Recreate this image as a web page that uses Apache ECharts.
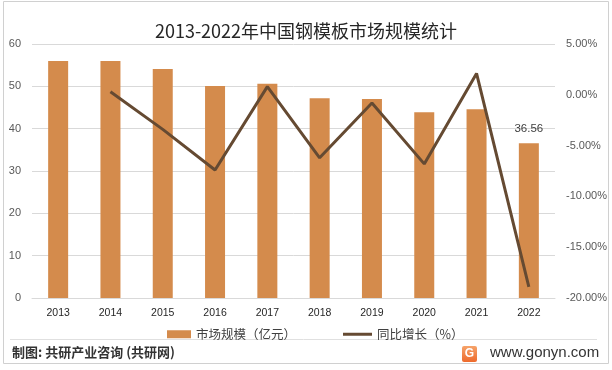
<!DOCTYPE html>
<html>
<head>
<meta charset="utf-8">
<script src="https://cdn.jsdelivr.net/npm/echarts@6/dist/echarts.min.js"></script>
<style>
html,body{margin:0;padding:0;background:#fff;}
#c{width:612px;height:370px;}
</style>
</head>
<body>
<div id="c"></div>
<script>
var categories = ['2013','2014','2015','2016','2017','2018','2019','2020','2021','2022'];
var marketSize = [56.0, 56.0, 54.1, 50.1, 50.6, 47.2, 47.0, 43.9, 44.6, 36.56];
var growthPct = [null, 0.3, -3.4, -7.4, 0.8, -6.2, -0.8, -6.8, 2.1, -18.9];
var titleText = '2013-2022年中国钢模板市场规模统计';
var barName = '市场规模（亿元）';
var lineName = '同比增长（%）';
var sourceText = '制图: 共研产业咨询 (共研网)';
var siteText = 'www.gonyn.com';

var cjk = '"Noto Sans CJK SC", "Noto Sans", sans-serif';
var lat = '"Liberation Sans", "DejaVu Sans", sans-serif';
var chart = echarts.init(document.getElementById('c'), null, {renderer:'canvas'});
chart.setOption({
  backgroundColor:'#ffffff',
  animation:false,
  title:{text:titleText,left:'center',top:17,textStyle:{fontFamily:cjk,fontSize:18,fontWeight:'normal',color:'#262626'}},
  grid:{left:32,right:57,top:44,bottom:72},
  legend:[
    {data:[barName],left:162,top:323,itemWidth:24,itemHeight:8,icon:'rect',
     textStyle:{fontFamily:cjk,fontSize:12.5,color:'#404040'}},
    {data:[lineName],left:338,top:323,itemWidth:29,itemHeight:3,icon:'rect',
     textStyle:{fontFamily:cjk,fontSize:12.5,color:'#404040'}}
  ],
  xAxis:{type:'category',data:categories,
    axisLine:{lineStyle:{color:'#d9d9d9'}},axisTick:{show:false},
    axisLabel:{fontFamily:lat,fontSize:10.5,color:'#262626',margin:10}},
  yAxis:[
    {type:'value',min:0,max:60,interval:10,
     axisLine:{show:false},axisTick:{show:false},
     splitLine:{lineStyle:{color:'#d9d9d9'}},
     axisLabel:{fontFamily:lat,fontSize:11,color:'#595959',margin:11}},
    {type:'value',min:-20,max:5,interval:5,position:'right',
     axisLine:{show:false},axisTick:{show:false},splitLine:{show:false},
     axisLabel:{fontFamily:lat,fontSize:11,color:'#595959',margin:11,
       formatter:function(v){return v.toFixed(2)+'%';}}}
  ],
  series:[
    {name:barName,type:'bar',data:marketSize,barWidth:20,
     itemStyle:{color:'#D48B4C'},
     label:{show:true,position:'top',distance:8,fontFamily:lat,fontSize:11.5,color:'#404040',
       formatter:function(p){return p.dataIndex===marketSize.length-1?p.value.toFixed(2):'';}}},
    {name:lineName,type:'line',yAxisIndex:1,data:growthPct,
     symbol:'none',showSymbol:false,
     lineStyle:{color:'#654A32',width:3},itemStyle:{color:'#654A32'}}
  ],
  graphic:[
    {type:'rect',shape:{x:3.5,y:1.5,width:605,height:362},style:{fill:'none',stroke:'#d0d0d0',lineWidth:1},silent:true,z:-1},
    {type:'line',shape:{x1:10,y1:339.5,x2:597,y2:339.5},style:{stroke:'#e0e0e0',lineWidth:1},silent:true},
    {type:'text',left:12,top:346,style:{text:sourceText,font:'bold 13px '+cjk,fill:'#333333'}},
    {type:'group',left:462,top:346,children:[
      {type:'rect',shape:{x:0,y:0,width:15,height:16,r:2},
       style:{fill:new echarts.graphic.LinearGradient(0,0,0,1,[{offset:0,color:'#F6A36A'},{offset:1,color:'#EE6A2C'}])}},
      {type:'text',style:{text:'G',x:7.5,y:8,align:'center',verticalAlign:'middle',font:'bold 12px '+lat,fill:'#ffffff'}}
    ]},
    {type:'text',left:490,top:345,style:{text:siteText,font:'15px '+lat,fill:'#333333'}}
  ]
});
</script>
</body>
</html>
